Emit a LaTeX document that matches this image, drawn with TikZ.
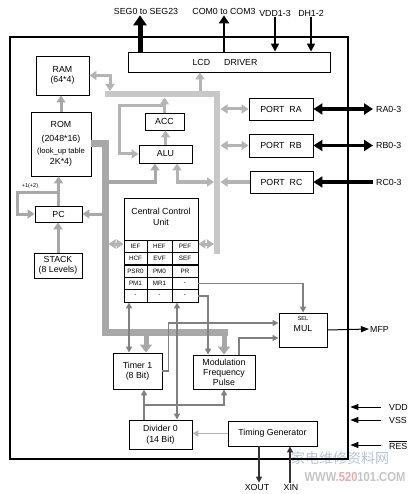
\documentclass[tikz,border=0pt]{standalone}
\usepackage{fontspec}
\setmainfont{Liberation Sans}
\newfontfamily\cjkwm{Noto Sans CJK SC}
\usetikzlibrary{arrows.meta,calc}
\definecolor{lbusc}{HTML}{C8C8C8}
\definecolor{garc}{HTML}{B4B4B4}
\definecolor{mbusc}{HTML}{A8A8A8}
\definecolor{dgc}{HTML}{808080}
\definecolor{wmc}{HTML}{B8C2D2}
\definecolor{wmg}{HTML}{C4C4C4}
\definecolor{wmr}{HTML}{EAA8A8}
\tikzset{
 Gt/.tip={Triangle[width=9pt,length=7pt]},
 Mt/.tip={Triangle[width=12pt,length=8pt]},
 Dt/.tip={Triangle[width=6pt,length=6pt]},
 Kt/.tip={Triangle[width=6pt,length=8pt]},
 Pt/.tip={Triangle[width=11pt,length=9pt]},
 St/.tip={Triangle[width=13pt,length=10pt]},
 Ct/.tip={Triangle[width=10pt,length=8pt]},
 Vt/.tip={Triangle[width=8pt,length=8pt]},
 blk/.style={draw, line width=0.9pt, fill=white, inner sep=1pt, align=center},
 lbl/.style={inner sep=1pt, align=center},
 cell/.style={inner sep=0pt, font=\fontsize{6.3}{7}\selectfont},
 lbus/.style={draw=lbusc, line width=6.5pt},
 mbus/.style={draw=mbusc, line width=7pt},
 ga/.style={draw=garc, line width=3pt, -Gt},
 gab/.style={draw=garc, line width=3pt, Gt-Gt},
 ma/.style={draw=mbusc, line width=3pt, -Gt},
 bigarr/.style={draw=mbusc, line width=5pt, -Mt},
 da/.style={draw=dgc, line width=1.5pt, -Dt},
 dab/.style={draw=dgc, line width=1.5pt, Dt-Dt},
 ka/.style={draw=black, line width=1pt, -Kt},
 pa/.style={draw=black, line width=3.5pt, -Pt},
 pab/.style={draw=black, line width=3.5pt, Pt-Pt}
}
\begin{document}
\begin{tikzpicture}[x=1pt,y=-1pt,font=\fontsize{8.8}{10.5}\selectfont]
\useasboundingbox (0,0) rectangle (410,494);
% watermark
\node[text=wmc, font=\cjkwm\fontsize{14}{14}\selectfont, inner sep=0] (wm1) at (340,458) {家电维修资料网};
\node[text=wmg, font=\fontsize{13}{13}\selectfont\bfseries, xscale=0.86, inner sep=0] (wm2) at (355,477) {WWW.\textcolor{wmr}{520}101.COM};
% frame
\node[draw, line width=2.4pt, minimum width=338, minimum height=422, inner sep=0] (chip) at (179,248) {};
% buses
\coordinate (lb1) at (105,94); \coordinate (lb2) at (217,94); \coordinate (lb3) at (217,254);
\draw[lbus] (lb1) -- (lb2) -- (lb3);
% boxes
\node[blk, minimum width=202, minimum height=20] (lcd) at (229,62) {LCD\hspace{14pt}DRIVER\hspace{8pt}};
\node[blk, minimum width=53, minimum height=39] (ram) at (62.5,75.5) {RAM\\(64*4)};
\node[blk, minimum width=60, minimum height=64] (rom) at (61,144) {ROM\\[3pt](2048*16)\\[2pt]\fontsize{7.6}{9.5}\selectfont(look\_up table\\2K*4)};
\node[blk, minimum width=47, minimum height=16] (pc) at (58.5,214) {PC};
\node[blk, minimum width=48, minimum height=25] (stack) at (58,265.5) {\fontsize{8.8}{9.5}\selectfont STACK\\(8 Levels)};
\node[blk, minimum width=39, minimum height=17] (acc) at (164.5,121.5) {ACC};
\node[blk, minimum width=53, minimum height=18] (alu) at (165.5,154) {ALU};
\node[blk, minimum width=64, minimum height=22] (pra) at (281,109) {PORT\ \ RA};
\node[blk, minimum width=64, minimum height=23] (prb) at (281,145.5) {PORT\ \ RB};
\node[blk, minimum width=63, minimum height=22] (prc) at (281.5,182) {PORT\ \ RC};
\node[blk, minimum width=74, minimum height=104] (ccu) at (161,250) {};
\node[lbl] (ccut) at (161,217) {Central Control\\Unit};
\node[blk, minimum width=48, minimum height=34] (mul) at (303,330) {};
\node[lbl, font=\fontsize{5.5}{6}\selectfont] (sel) at (303,318.5) {SEL};
\node[lbl] (mult) at (303,329) {MUL};
\node[blk, minimum width=49, minimum height=36] (timer) at (137.5,371) {Timer 1\\(8 Bit)};
\node[blk, minimum width=62, minimum height=34, font=\fontsize{8.8}{10}\selectfont] (mod) at (224,372) {Modulation\\Frequency\\Pulse};
\node[blk, minimum width=63, minimum height=29] (div) at (160.5,434.5) {Divider 0\\(14 Bit)};
\node[blk, minimum width=89, minimum height=25] (tg) at (272.5,433.5) {Timing Generator};
% ccu table
\draw[line width=0.9pt] (124,240) -- (198,240);
\draw[line width=0.9pt] (124,252.4) -- (198,252.4);
\draw[line width=1.4pt] (124,264.8) -- (198,264.8);
\draw[line width=1.1pt] (124,277.2) -- (198,277.2);
\draw[line width=0.9pt] (124,289.6) -- (198,289.6);
\draw[line width=0.9pt] (147,240) -- (147,302);
\draw[line width=0.9pt] (172,240) -- (172,302);
\node[cell] (c11) at (135.5,246.2) {IEF};
\node[cell] (c12) at (159.5,246.2) {HEF};
\node[cell] (c13) at (185,246.2) {PEF};
\node[cell] (c21) at (135.5,258.6) {HCF};
\node[cell] (c22) at (159.5,258.6) {EVF};
\node[cell] (c23) at (185,258.6) {SEF};
\node[cell] (c31) at (135.5,271) {PSR0};
\node[cell] (c32) at (159.5,271) {PM0};
\node[cell] (c33) at (185,271) {PR};
\node[cell] (c41) at (135.5,283.4) {PM1};
\node[cell] (c42) at (159.5,283.4) {MR1};
\node[cell] (c43) at (185,283.4) {-};
\node[cell] (c51) at (135.5,295.8) {-};
\node[cell] (c52) at (159.5,295.8) {-};
\node[cell] (c53) at (185,295.8) {-};
% ROM bus
\coordinate (mb1) at (105,332); \coordinate (mb2) at (228,332);
\draw[mbus] (rom.east) -| (mb1) -- (mb2);
% top labels and arrows
\node[lbl] (seg) at (146,11) {SEG0 to SEG23};
\node[lbl] (com) at (224,11) {COM0 to COM3};
\node[lbl] (vddl) at (275,13) {VDD1-3};
\node[lbl] (dhl) at (311,13) {DH1-2};
\draw[draw=black, line width=5pt, -St] ([xshift=-89pt]lcd.north) -- ([xshift=-89pt]lcd.north |- seg.south);
\draw[draw=black, line width=2.5pt, -Ct] ([xshift=-5pt]lcd.north) -- ([xshift=-5pt]lcd.north |- com.south);
\draw[draw=black, line width=1.5pt, -Vt] (vddl.south) -- (vddl.south |- lcd.north);
\draw[draw=black, line width=1.5pt, -Vt] (dhl.south) -- (dhl.south |- lcd.north);
% light bus connections
\coordinate (ramj) at (110,91);
\draw[gab] (ram.east) -| (ramj);
\coordinate (lcdj) at (200,91);
\draw[ga] (lcdj) -- (lcdj |- lcd.south);
\coordinate (accj) at (164.5,97.5);
\draw[ga] (acc.north) -- (accj);
\coordinate (accl) at (164.5,106);
\draw[ga] (accl) -| ([xshift=-19pt]alu.west) -- (alu.west);
\draw[ga] (alu.north) -- (alu.north |- acc.south);
\coordinate (ra1) at (108,182);
\draw[ma] (ra1) -| ([xshift=-10.5pt]alu.south);
\coordinate (ra2) at (214,182);
\draw[gab] ([xshift=11.5pt]alu.south) |- (ra2);
\coordinate (pja) at (220.5,109);
\coordinate (pjb) at (220.5,145.5);
\coordinate (pjc) at (220.5,182);
\draw[gab] (pja) -- (pra.west);
\draw[gab] (pjb) -- (prb.west);
\draw[ga] (prc.west) -- (pjc);
\coordinate (cl) at (108.5,244);
\coordinate (cr) at (214,244);
\draw[gab] (cl) -- (ccu.west |- cl);
\draw[gab] (ccu.east |- cr) -- (cr);
% ROM bus connections
\draw[ma] (rom.north) -- (rom.north |- ram.south);
\coordinate (pcj) at (101.5,214);
\draw[ma] (pcj) -- (pc.east);
\draw[ma] (pc.north) -- (pc.north |- rom.south);
\coordinate (pcl) at (58.5,192);
\draw[ma] (pcl) -| ([xshift=-17.5pt]pc.west) -- (pc.west);
\node[lbl, font=\fontsize{5.5}{6}\selectfont] (inc) at (30,186) {+1(+2)};
\draw[ma] (stack.north) -- (stack.north |- pc.south);
\coordinate (tb1) at (146,335);
\coordinate (tb2) at (224,335);
\draw[bigarr] (tb1) -- (tb1 |- timer.north);
\draw[bigarr] (tb2) -- (tb2 |- mod.north);
% ports
\node[lbl, anchor=west] (ral) at (375,109) {RA0-3};
\node[lbl, anchor=west] (rbl) at (375,145.5) {RB0-3};
\node[lbl, anchor=west] (rcl) at (375,182) {RC0-3};
\draw[pab] (pra.east) -- ([xshift=-2pt]ral.west);
\draw[pab] (prb.east) -- ([xshift=-2pt]rbl.west);
\draw[pa] ([xshift=-2pt]rcl.west) -- (prc.east);
% control lines
\draw[da] (ccu.east |- c43) -| (mul.north);
\draw[da] (ccu.east |- c53) -| ([xshift=-16pt]mod.north);
\draw[dab] ([xshift=-8.5pt]timer.north) -- ([xshift=-8.5pt]timer.north |- ccu.south);
\draw[da] (timer.east) -- ++(6,0) |- ([yshift=7pt]mul.west);
\draw[da] ([xshift=15pt]mod.north) |- ([yshift=-8pt]mul.west);
\draw[dab] ([xshift=16.5pt]div.north) -- ([xshift=16.5pt]div.north |- ccu.south);
\draw[da] ([xshift=-16.5pt]div.north) -- ([xshift=-16.5pt]div.north |- timer.south);
\coordinate (dj) at (144,405);
\draw[da] (dj) -| (mod.south);
\draw[draw=garc, line width=1.8pt, -Dt] (tg.west) -- (tg.west -| div.east);
% MUL output
\node[lbl, anchor=west] (mfp) at (369,329) {MFP};
\draw[ka] (mul.east) -- (mfp.west);
% XOUT/XIN
\node[lbl] (xout) at (257,487) {XOUT};
\node[lbl] (xin) at (291,487) {XIN};
\draw[draw=black!80, line width=1.2pt, -Dt] ([xshift=-13.5pt]tg.south) -- ([xshift=-13.5pt]tg.south |- xout.north);
\draw[draw=black!80, line width=1.2pt, -Dt] ([xshift=17.5pt]tg.south |- xin.north) -- ([xshift=17.5pt]tg.south);
% power inputs
\node[lbl, anchor=west] (vdd) at (388,407) {VDD};
\node[lbl, anchor=west] (vss) at (388,420) {VSS};
\node[lbl, anchor=west] (res) at (388,445) {$\overline{\mbox{RES}}$};
\draw[ka, shorten >=1.2pt] ([xshift=-7pt]vdd.west) -- (vdd.west -| chip.east);
\draw[ka, shorten >=1.2pt] ([xshift=-7pt]vss.west) -- (vss.west -| chip.east);
\draw[ka, shorten >=1.2pt] ([xshift=-7pt]res.west) -- (res.west -| chip.east);
\end{tikzpicture}
\end{document}
